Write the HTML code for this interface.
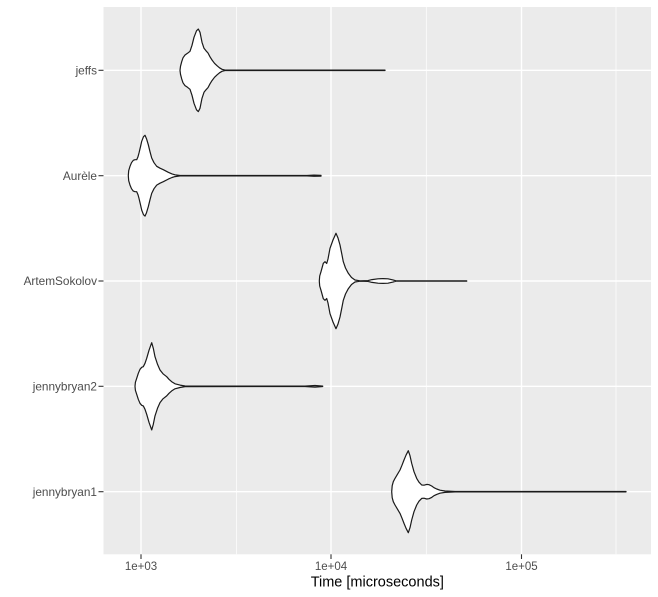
<!DOCTYPE html>
<html>
<head>
<meta charset="utf-8">
<style>
html,body{margin:0;padding:0;background:#fff;}
svg{display:block;}
</style>
</head>
<body>
<svg width="658" height="597" viewBox="0 0 658 597" xmlns="http://www.w3.org/2000/svg">
<rect x="0" y="0" width="658" height="597" fill="#ffffff"/>
<rect x="103.5" y="7" width="547.5" height="547.3" fill="#ebebeb"/>
<!-- minor grid -->
<g stroke="#ffffff" stroke-width="0.7">
<line x1="236.5" y1="7" x2="236.5" y2="554.3"/>
<line x1="426.3" y1="7" x2="426.3" y2="554.3"/>
<line x1="616" y1="7" x2="616" y2="554.3"/>
</g>
<!-- major grid -->
<g stroke="#ffffff" stroke-width="1.4">
<line x1="141" y1="7" x2="141" y2="554.3"/>
<line x1="331" y1="7" x2="331" y2="554.3"/>
<line x1="521.5" y1="7" x2="521.5" y2="554.3"/>
<line x1="103.5" y1="70.3" x2="651" y2="70.3"/>
<line x1="103.5" y1="175.7" x2="651" y2="175.7"/>
<line x1="103.5" y1="281" x2="651" y2="281"/>
<line x1="103.5" y1="386.3" x2="651" y2="386.3"/>
<line x1="103.5" y1="491.7" x2="651" y2="491.7"/>
</g>
<!-- violins -->
<g fill="#ffffff" stroke="#1a1a1a" stroke-width="1.2" stroke-linejoin="round">
<polygon points="180,70.3 180.5,66.3 181.7,61.7 183,57.8 185,55 187.5,53.3 190,51.3 192,45.3 194,37.3 196.5,30.8 198.3,29 200,32.3 202,42.3 204,48.3 206,50.8 208,53 210,56.8 212,60 214.5,63.3 217,65.7 219.5,67.8 222,69.3 225,70.1 385,70.1 385,70.5 225,70.5 222,71.3 219.5,72.8 217,74.9 214.5,77.3 212,80.6 210,83.8 208,87.6 206,89.8 204,92.3 202,98.3 200,108.3 198.3,111.6 196.5,109.8 194,103.3 192,95.3 190,89.3 187.5,87.3 185,85.6 183,82.8 181.7,78.9 180.5,74.3"/>
<polygon points="128.3,175.7 128.7,170.7 130,166.3 131.5,162.7 133.3,160.3 135,159.7 136.7,159.7 138,156.7 139,153 140.5,146.7 141.7,141.3 143.5,136.7 145,135.3 146.5,138.7 148.3,144.7 150,151.7 151.7,158 154,162.7 156.7,166.3 160,168.2 163.3,169.7 168.3,172.3 172,173.9 175,174.8 180,175.5 307,175.5 314,175.1 321,175.3 321,176.1 314,176.3 307,175.9 180,175.9 175,176.6 172,177.5 168.3,179.1 163.3,181.7 160,183.2 156.7,185.1 154,188.7 151.7,193.4 150,199.7 148.3,206.7 146.5,212.7 145,216.1 143.5,214.7 141.7,210.1 140.5,204.7 139,198.4 138,194.7 136.7,191.7 135,191.7 133.3,191.1 131.5,188.7 130,185.1 128.7,180.7"/>
<polygon points="319.3,281 319.7,276 321,271.7 323.3,263.3 325,261.7 326.7,263.5 328,259 330,248.3 333,240 336,233.3 338,238 340,245 342,255 343.3,261.7 345.5,268 348.3,273.3 351.5,277.5 355,280 360,280.8 368,280.6 372,279.6 378,278.8 383,278.6 388,278.8 393,279.9 396,280.8 466.7,280.8 466.7,281.2 396,281.2 393,282.1 388,283.2 383,283.4 378,283.2 372,282.4 368,281.4 360,281.2 355,282 351.5,284.5 348.3,288.7 345.5,294 343.3,300.3 342,307 340,317 338,324 336,328.7 333,322 330,313.7 328,303 326.7,298.5 325,300.3 323.3,298.7 321,290.3 319.7,286"/>
<polygon points="135,386.3 135.4,382.3 136.7,378.3 138.3,373.3 140,369.3 141.7,367.3 143.3,366.7 145,363.3 146.7,358.3 149,350.3 151.7,342.7 153.3,348.3 155,356.7 157.5,364.3 160,370 163,373.8 166.7,376.7 169,379.3 171.7,381.7 175,383.8 180,385.1 185,386 305,386.1 315,385.5 322.7,386.1 322.7,386.5 315,387.1 305,386.5 185,386.6 180,387.5 175,388.8 171.7,390.9 169,393.3 166.7,395.9 163,398.8 160,402.6 157.5,408.3 155,415.9 153.3,424.3 151.7,429.9 149,422.3 146.7,414.3 145,409.3 143.3,405.9 141.7,405.3 140,403.3 138.3,399.3 136.7,394.3 135.4,390.3"/>
<polygon points="391.7,491.7 392.2,485.7 393.3,481.7 395,478.4 397.5,474.2 400,470 402,465.2 404,460 406,455.2 408.3,450.7 410,455.7 411.7,463.4 414,471.7 416.7,478.4 419,482.2 421.7,485 424,485.2 426.7,484.4 429,484.7 431.7,486 434,487.7 436.7,489 440,490.2 445,491 455,491.5 626,491.5 626,491.9 455,491.9 445,492.4 440,493.2 436.7,494.4 434,495.7 431.7,497.4 429,498.7 426.7,499 424,498.2 421.7,498.4 419,501.2 416.7,505 414,511.7 411.7,520 410,527.7 408.3,532.7 406,528.2 404,523.4 402,518.2 400,513.4 397.5,509.2 395,505 393.3,501.7 392.2,497.7"/>
</g>
<!-- ticks -->
<g stroke="#333333" stroke-width="1.1">
<line x1="98.5" y1="70.3" x2="103.5" y2="70.3"/>
<line x1="98.5" y1="175.7" x2="103.5" y2="175.7"/>
<line x1="98.5" y1="281" x2="103.5" y2="281"/>
<line x1="98.5" y1="386.3" x2="103.5" y2="386.3"/>
<line x1="98.5" y1="491.7" x2="103.5" y2="491.7"/>
<line x1="141" y1="554.3" x2="141" y2="559"/>
<line x1="331" y1="554.3" x2="331" y2="559"/>
<line x1="521.5" y1="554.3" x2="521.5" y2="559"/>
</g>
<!-- y labels -->
<g font-family="Liberation Sans, sans-serif" font-size="11.8" fill="#4d4d4d" text-anchor="end">
<text x="97" y="74.5">jeffs</text>
<text x="97" y="179.9">Aurèle</text>
<text x="97" y="285.2">ArtemSokolov</text>
<text x="97" y="390.5">jennybryan2</text>
<text x="97" y="495.9">jennybryan1</text>
</g>
<!-- x labels -->
<g font-family="Liberation Sans, sans-serif" font-size="11.5" fill="#4d4d4d" text-anchor="middle">
<text x="141" y="570">1e+03</text>
<text x="331" y="570">1e+04</text>
<text x="521.5" y="570">1e+05</text>
</g>
<text x="377.3" y="586.5" font-family="Liberation Sans, sans-serif" font-size="14.5" fill="#000000" text-anchor="middle">Time [microseconds]</text>
</svg>
</body>
</html>
